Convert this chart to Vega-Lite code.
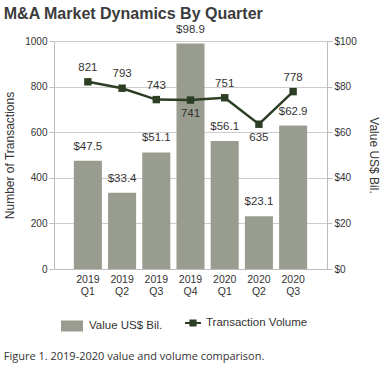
{
  "$schema": "https://vega.github.io/schema/vega-lite/v6.json",
  "padding": {"left": 3, "top": 5, "right": 5, "bottom": 5},
  "background": "white",
  "config": {
    "font": "Liberation Sans",
    "view": {"stroke": null},
    "axis": {"labelColor": "#333", "titleColor": "#333", "titleFontWeight": "normal", "domainColor": "#bdbdbd", "tickColor": "#bdbdbd", "gridColor": "#cccccc"},
    "legend": {"labelColor": "#333", "labelFontSize": 11.5, "title": null}
  },
  "title": {"text": "Figure 1. 2019-2020 value and volume comparison.", "orient": "bottom", "anchor": "start", "font": "Open Sans", "fontSize": 11, "fontWeight": "normal", "color": "#333", "offset": 12},
  "data": {"values": [
    {"q": "2019 Q1", "value": 47.5, "volume": 821},
    {"q": "2019 Q2", "value": 33.4, "volume": 793},
    {"q": "2019 Q3", "value": 51.1, "volume": 743},
    {"q": "2019 Q4", "value": 98.9, "volume": 741},
    {"q": "2020 Q1", "value": 56.1, "volume": 751},
    {"q": "2020 Q2", "value": 23.1, "volume": 635},
    {"q": "2020 Q3", "value": 62.9, "volume": 778}
  ]},
  "vconcat": [{
    "title": {"text": "M&A Market Dynamics By Quarter", "anchor": "start", "fontSize": 16, "fontWeight": "bold", "color": "#3c3c3c", "offset": 2},
    "width": 273,
    "height": 228,
    "encoding": {
      "x": {"field": "q", "type": "nominal", "sort": null,
        "scale": {"paddingInner": 0.18, "paddingOuter": 0.58},
        "axis": {"title": null, "labelAngle": 0, "labelExpr": "split(datum.label, ' ')", "labelFontSize": 10.5, "labelLineHeight": 12, "labelPadding": 5, "ticks": false}}
    },
    "layer": [
      {
        "layer": [
          {"mark": {"type": "bar"},
           "encoding": {
             "y": {"field": "value", "type": "quantitative", "scale": {"domain": [0, 100]},
               "axis": {"orient": "right", "values": [0, 20, 40, 60, 80, 100], "format": "$.0f", "grid": false, "title": "Value US$ Bil.", "titleFontSize": 12, "labelFontSize": 10, "tickSize": 5, "labelPadding": 2, "titlePadding": 10}},
             "color": {"datum": "Value US$ Bil.", "scale": {"range": ["#999d8f"]},
               "legend": {"orient": "bottom", "symbolType": "M-1,-0.5H1V0.5H-1Z", "symbolSize": 484, "symbolStrokeWidth": 0, "labelOffset": 6, "padding": 7, "offset": 11}}
           }},
          {"mark": {"type": "text", "dy": -14, "fontSize": 11.5, "color": "#333"},
           "encoding": {
             "y": {"field": "value", "type": "quantitative"},
             "text": {"field": "value", "format": "$.1f"}
           }}
        ]
      },
      {
        "layer": [
          {"mark": {"type": "line", "color": "#2c3e24", "strokeWidth": 2.5},
           "encoding": {
             "y": {"field": "volume", "type": "quantitative", "scale": {"domain": [0, 1000]},
               "axis": {"orient": "left", "values": [0, 200, 400, 600, 800, 1000], "format": "d", "grid": true, "title": "Number of Transactions", "titleFontSize": 12, "labelFontSize": 10, "tickSize": 5, "labelPadding": 2, "titlePadding": 8}}
           }},
          {"mark": {"type": "point", "shape": "square", "filled": true, "size": 55, "opacity": 1},
           "encoding": {
             "y": {"field": "volume", "type": "quantitative"},
             "color": {"datum": "Transaction Volume", "scale": {"range": ["#2c3e24"]},
               "legend": {"orient": "bottom", "symbolType": "M-1,-0.12H1V0.12H-1Z M-0.45,-0.45H0.45V0.45H-0.45Z", "symbolSize": 256, "symbolStrokeWidth": 0, "labelOffset": 5, "padding": 7, "offset": 11}}
           }},
          {"transform": [{"filter": "datum.q != '2019 Q4' && datum.q != '2020 Q2'"}],
           "mark": {"type": "text", "dy": -14, "fontSize": 11.5, "color": "#333"},
           "encoding": {
             "y": {"field": "volume", "type": "quantitative"},
             "text": {"field": "volume"}
           }},
          {"transform": [{"filter": "datum.q == '2019 Q4' || datum.q == '2020 Q2'"}],
           "mark": {"type": "text", "dy": 14, "fontSize": 11.5, "color": "#333"},
           "encoding": {
             "y": {"field": "volume", "type": "quantitative"},
             "text": {"field": "volume"}
           }}
        ]
      }
    ],
    "resolve": {"scale": {"y": "independent", "color": "independent"}}
  }]
}
